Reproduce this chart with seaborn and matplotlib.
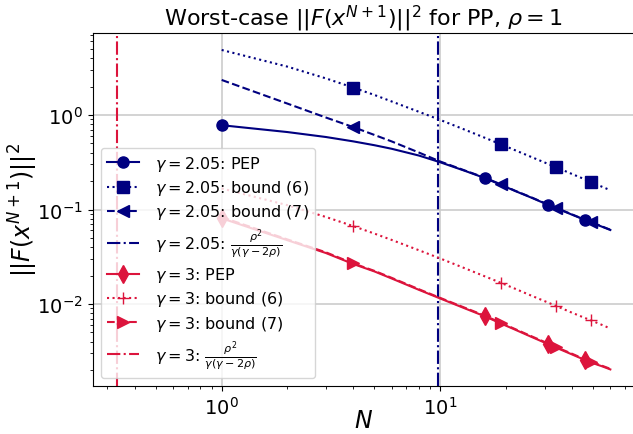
import matplotlib
matplotlib.use("Agg")
import matplotlib.pyplot as plt
import seaborn as sns

# iteration counts at which values were read
N = [1, 2, 3, 4, 5, 6, 8, 10, 13, 16, 19, 22, 26, 31, 34, 40, 46, 49, 55, 60]

# gamma = 2.05
pep_205 = [0.78, 0.66, 0.585, 0.526, 0.479, 0.439, 0.372, 0.316, 0.256, 0.215,
           0.182, 0.157, 0.134, 0.1125, 0.103, 0.0883, 0.0774, 0.0731, 0.0657, 0.0607]
b6_205 = [4.88, 3.25, 2.44, 1.95, 1.63, 1.39, 1.08, 0.887, 0.697, 0.574,
          0.488, 0.424, 0.361, 0.305, 0.279, 0.238, 0.208, 0.195, 0.174, 0.160]
b7_205 = [2.35, 1.32, 0.94, 0.745, 0.615, 0.525, 0.40, 0.322, 0.258, 0.217,
          0.184, 0.158, 0.135, 0.1135, 0.104, 0.0889, 0.0779, 0.0736, 0.0661, 0.0611]

# gamma = 3
pep_3 = [0.0807, 0.0473, 0.0346, 0.0265, 0.0221, 0.0186, 0.0141, 0.01143, 0.00896, 0.0074,
         0.0062, 0.00535, 0.00451, 0.00378, 0.00344, 0.00293, 0.00255, 0.0024, 0.00219, 0.00203]
b6_3 = [0.167, 0.111, 0.0833, 0.0667, 0.0556, 0.0476, 0.037, 0.0303, 0.0238, 0.0196,
        0.0167, 0.0145, 0.0123, 0.0104, 0.0095, 0.0081, 0.0071, 0.0067, 0.0060, 0.0055]
b7_3 = [0.083, 0.0482, 0.0352, 0.0269, 0.0224, 0.0189, 0.0143, 0.01160, 0.00910, 0.00752,
        0.0063, 0.00543, 0.00458, 0.00384, 0.00349, 0.00298, 0.00259, 0.00244, 0.00222, 0.00206]

# rho^2 / (gamma (gamma - 2 rho)) with rho = 1
vline_205 = 9.756
vline_3 = 0.3333

pep_marks = [1, 16, 31, 46]
bound_marks = [4, 19, 34, 49]

NAVY = "#000080"
CRIMSON = "#DC143C"

pep_idx = [N.index(v) for v in pep_marks]
bnd_idx = [N.index(v) for v in bound_marks]

fig = plt.figure(figsize=(6.33, 4.35), dpi=100)
ax = fig.add_axes([92.7 / 633, 1 - 387 / 435, (635 - 92.7) / 633, (387 - 34) / 435])

def line(y, color, ls, marker, idx, label, ms=8):
    sns.lineplot(x=N, y=y, ax=ax, color=color, linestyle=ls, linewidth=1.5,
                 marker=marker, markevery=idx, markersize=ms,
                 markeredgecolor=color, markerfacecolor=color,
                 markeredgewidth=1.0, label=label)

line(pep_205, NAVY, "-", "o", pep_idx, r"$\gamma=2.05$: PEP")
line(b6_205, NAVY, ":", "s", bnd_idx, r"$\gamma=2.05$: bound (6)")
line(b7_205, NAVY, "--", "<", bnd_idx, r"$\gamma=2.05$: bound (7)")
ax.axvline(vline_205, color=NAVY, linestyle="-.", linewidth=1.5,
           label=r"$\gamma=2.05$: $\frac{\rho^2}{\gamma(\gamma-2\rho)}$")
line(pep_3, CRIMSON, "-", "d", pep_idx, r"$\gamma=3$: PEP", ms=9)
line(b6_3, CRIMSON, ":", "+", bnd_idx, r"$\gamma=3$: bound (6)")
line(b7_3, CRIMSON, "--", ">", bnd_idx, r"$\gamma=3$: bound (7)")
ax.axvline(vline_3, color=CRIMSON, linestyle="-.", linewidth=1.5,
           label=r"$\gamma=3$: $\frac{\rho^2}{\gamma(\gamma-2\rho)}$")

ax.set_xscale("log")
ax.set_yscale("log")
ax.set_xlim(0.257, 77.8)
ax.set_ylim(10 ** -2.868, 10 ** 0.868)
ax.grid(True, which="major", color="#cccccc", linewidth=1.2)
ax.set_axisbelow(True)
ax.tick_params(axis="both", which="major", labelsize=14)

ax.set_title(r"Worst-case $||F(x^{N+1})||^2$ for PP, $\rho=1$", fontsize=16)
ax.set_xlabel(r"$N$", fontsize=17)
ax.set_ylabel(r"$||F(x^{N+1})||^2$", fontsize=17)
ax.xaxis.set_label_coords(0.5, -0.062)
ax.yaxis.set_label_coords(-0.097, 0.5)
ax.legend(loc="lower left", fontsize=11.5, labelspacing=0.32, handletextpad=1.0)

fig.savefig("out.png", dpi=100)
